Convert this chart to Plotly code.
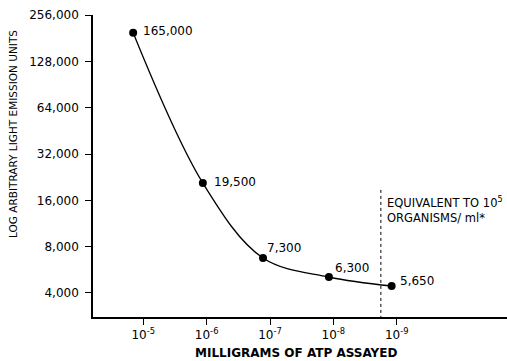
import numpy as np
import plotly.graph_objects as go

# Data (positions), with the printed value labels
atp_mg = [10**-4.84, 10**-5.94, 10**-6.89, 10**-7.93, 10**-8.92]
light_units = [196000, 20700, 6750, 5080, 4440]
value_labels = ["165,000", "19,500", "7,300", "6,300", "5,650"]
label_dx = [8, 9, 2, 4, 6]
label_dy = [2, 1, 10, 9, 5]

y_tickvals = [4000, 8000, 16000, 32000, 64000, 128000, 256000]
y_ticktext = ["4,000", "8,000", "16,000", "32,000", "64,000", "128,000", "256,000"]
x_tickvals = [1e-5, 1e-6, 1e-7, 1e-8, 1e-9]
x_ticktext = ["10<sup>-5</sup>", "10<sup>-6</sup>", "10<sup>-7</sup>", "10<sup>-8</sup>", "10<sup>-9</sup>"]

equiv_x = 10**-8.75
equiv_y = [18700, 2793]

FONT = "DejaVu Sans"
W, H = 507, 361
L, R, T, B = 93, 0, 15, 44


def px_to_paper(px, py):
    return (px - L) / (W - L - R), 1 - (py - T) / (H - T - B)


fig = go.Figure()
fig.add_trace(go.Scatter(
    x=atp_mg, y=light_units, mode="lines+markers",
    line=dict(color="black", width=1.3, shape="spline", smoothing=1.0),
    marker=dict(color="black", size=8),
    hoverinfo="skip", showlegend=False,
))
fig.add_trace(go.Scatter(
    x=[equiv_x, equiv_x], y=equiv_y, mode="lines",
    line=dict(color="black", width=1, dash="3px,3px"),
    hoverinfo="skip", showlegend=False,
))

for x, y, t, dx, dy in zip(atp_mg, light_units, value_labels, label_dx, label_dy):
    fig.add_annotation(x=np.log10(x), y=np.log10(y), xref="x", yref="y", text=t,
                       showarrow=False, xanchor="left", yanchor="middle",
                       xshift=dx, yshift=dy, font=dict(family=FONT, size=12, color="black"))

fig.add_annotation(x=np.log10(equiv_x), y=np.log10(equiv_y[0]), xref="x", yref="y",
                   text="EQUIVALENT TO 10<sup>5</sup><br>ORGANISMS/ ml*",
                   showarrow=False, xanchor="left", yanchor="top", align="left",
                   xshift=4, yshift=-3, font=dict(family=FONT, size=11.5, color="black"))

ax, ay = px_to_paper(13, 134)
fig.add_annotation(x=ax, y=ay, xref="paper", yref="paper", text="LOG ARBITRARY LIGHT EMISSION UNITS",
                   showarrow=False, textangle=-90, xanchor="center", yanchor="middle",
                   font=dict(family=FONT, size=10.5, color="black"))
bx, by = px_to_paper(296, 353)
fig.add_annotation(x=bx, y=by, xref="paper", yref="paper", text="<b>MILLIGRAMS OF ATP ASSAYED</b>",
                   showarrow=False, xanchor="center", yanchor="middle",
                   font=dict(family=FONT, size=12, color="black"))

fig.update_layout(
    width=W, height=H, margin=dict(l=L, r=R, t=T, b=B),
    paper_bgcolor="white", plot_bgcolor="white",
    font=dict(family=FONT, size=12, color="black"),
    xaxis=dict(type="log", range=[-4.206, -10.741], showline=True, linecolor="black", linewidth=1.5,
               ticks="outside", ticklen=6, tickwidth=1.2, tickcolor="black",
               tickvals=x_tickvals, ticktext=x_ticktext, showgrid=False, zeroline=False,
               tickfont=dict(family=FONT, size=12)),
    yaxis=dict(type="log", range=[np.log10(2793), np.log10(256000)], showline=True, linecolor="black",
               linewidth=1.5, ticks="outside", ticklen=6, tickwidth=1.2, tickcolor="black",
               tickvals=y_tickvals, ticktext=y_ticktext, showgrid=False, zeroline=False,
               ticklabelstandoff=4, tickfont=dict(family=FONT, size=12)),
)

fig.write_html("out.html", config={"displayModeBar": False},
               post_script="document.body.style.margin='0';document.body.style.overflow='hidden';")
